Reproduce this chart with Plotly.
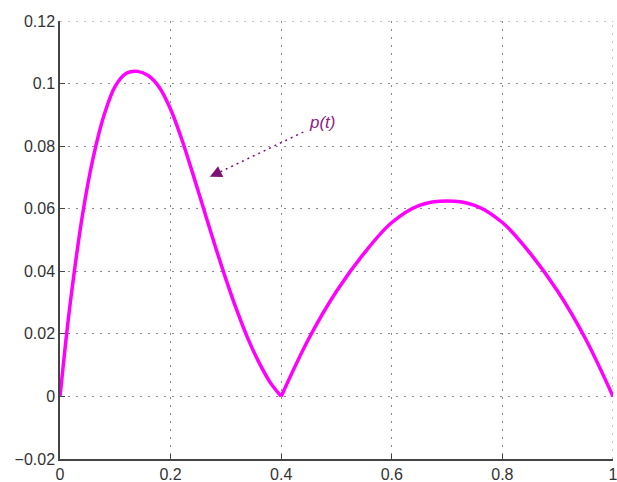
import plotly.graph_objects as go

# First lobe of p(t)
t_lobe1 = [0.0, 0.01, 0.02, 0.04, 0.06, 0.08, 0.1, 0.12, 0.14, 0.16, 0.18, 0.2, 0.22, 0.24,
           0.26, 0.28, 0.3, 0.32, 0.34, 0.36, 0.38, 0.4]
p_lobe1 = [0.0, 0.0168, 0.0319, 0.0573, 0.0763, 0.0901, 0.0992, 0.1033, 0.1039, 0.1025,
           0.0987, 0.0918, 0.0823, 0.0713, 0.0598, 0.0484, 0.0375, 0.0274, 0.0184, 0.0108,
           0.0045, 0.0]

# Second lobe of p(t)
t_lobe2 = [0.4, 0.45, 0.5, 0.55, 0.6, 0.65, 0.7, 0.75, 0.8, 0.85, 0.9, 0.95, 1.0]
p_lobe2 = [0.0, 0.0185, 0.0336, 0.0458, 0.0556, 0.0611, 0.0625, 0.0611, 0.0556, 0.0458,
           0.0336, 0.0185, 0.0]

x_ticks = [0, 0.2, 0.4, 0.6, 0.8, 1]
x_tick_labels = ["0", "0.2", "0.4", "0.6", "0.8", "1"]
y_ticks = [-0.02, 0, 0.02, 0.04, 0.06, 0.08, 0.1, 0.12]
y_tick_labels = ["\u22120.02", "0", "0.02", "0.04", "0.06", "0.08", "0.1", "0.12"]

label_text = "p(t)"
label_pos = (0.474, 0.0875)
arrow_tail = (0.44, 0.0845)
arrow_head = (0.271, 0.0702)

LINE = "#FF00FF"
ANN = "#7D1275"
GRID = "#888888"
GRID_DASH = "2px,6px"

fig = go.Figure()
for tt, pp in [(t_lobe1, p_lobe1), (t_lobe2, p_lobe2)]:
    fig.add_trace(go.Scatter(x=tt, y=pp, mode="lines",
                             line=dict(color=LINE, width=3.5, shape="spline", smoothing=1),
                             showlegend=False, hoverinfo="skip", cliponaxis=False))

# grid lines on the far edges (top and right), which Plotly does not draw itself
fig.add_shape(type="line", xref="x", yref="y", x0=0, x1=1, y0=0.12, y1=0.12,
              line=dict(color=GRID, width=1, dash=GRID_DASH), layer="below")
fig.add_shape(type="line", xref="x", yref="y", x0=1, x1=1, y0=-0.02, y1=0.12,
              line=dict(color=GRID, width=1, dash=GRID_DASH), layer="below")

# dotted arrow shaft
fig.add_shape(type="line", xref="x", yref="y",
              x0=arrow_tail[0], y0=arrow_tail[1],
              x1=arrow_head[0] + 0.012, y1=arrow_head[1] + 0.001,
              line=dict(color=ANN, width=1.5, dash="2px,4px"))
# arrow head
fig.add_annotation(x=arrow_head[0], y=arrow_head[1], xref="x", yref="y",
                   ax=arrow_head[0] + 0.02, ay=arrow_head[1] + 0.0017,
                   axref="x", ayref="y", text="", showarrow=True,
                   arrowhead=2, arrowsize=1.6, arrowwidth=1.5, arrowcolor=ANN)
fig.add_annotation(x=label_pos[0], y=label_pos[1], xref="x", yref="y",
                   text="<i>" + label_text + "</i>", showarrow=False,
                   font=dict(family="Liberation Sans", size=17, color="#8B228B"))

axis_common = dict(showgrid=True, gridcolor=GRID, griddash=GRID_DASH, gridwidth=1,
                   zeroline=False, showline=True, linecolor="#444444", linewidth=1.5,
                   ticks="inside", ticklen=5, tickcolor="#444444",
                   tickfont=dict(family="Liberation Sans", size=16, color="#333333"))

fig.update_xaxes(range=[0, 1], tickvals=x_ticks, ticktext=x_tick_labels,
                 ticklabeloverflow="allow", **axis_common)
fig.update_yaxes(range=[-0.02, 0.12], tickvals=y_ticks, ticktext=y_tick_labels, **axis_common)

fig.update_layout(width=617, height=482,
                  margin=dict(l=60, r=4, t=21, b=23, autoexpand=False),
                  paper_bgcolor="white", plot_bgcolor="white")

fig.write_html("out.html", config={"displayModeBar": False},
               post_script="document.body.style.margin='0';document.body.style.overflow='hidden';")
